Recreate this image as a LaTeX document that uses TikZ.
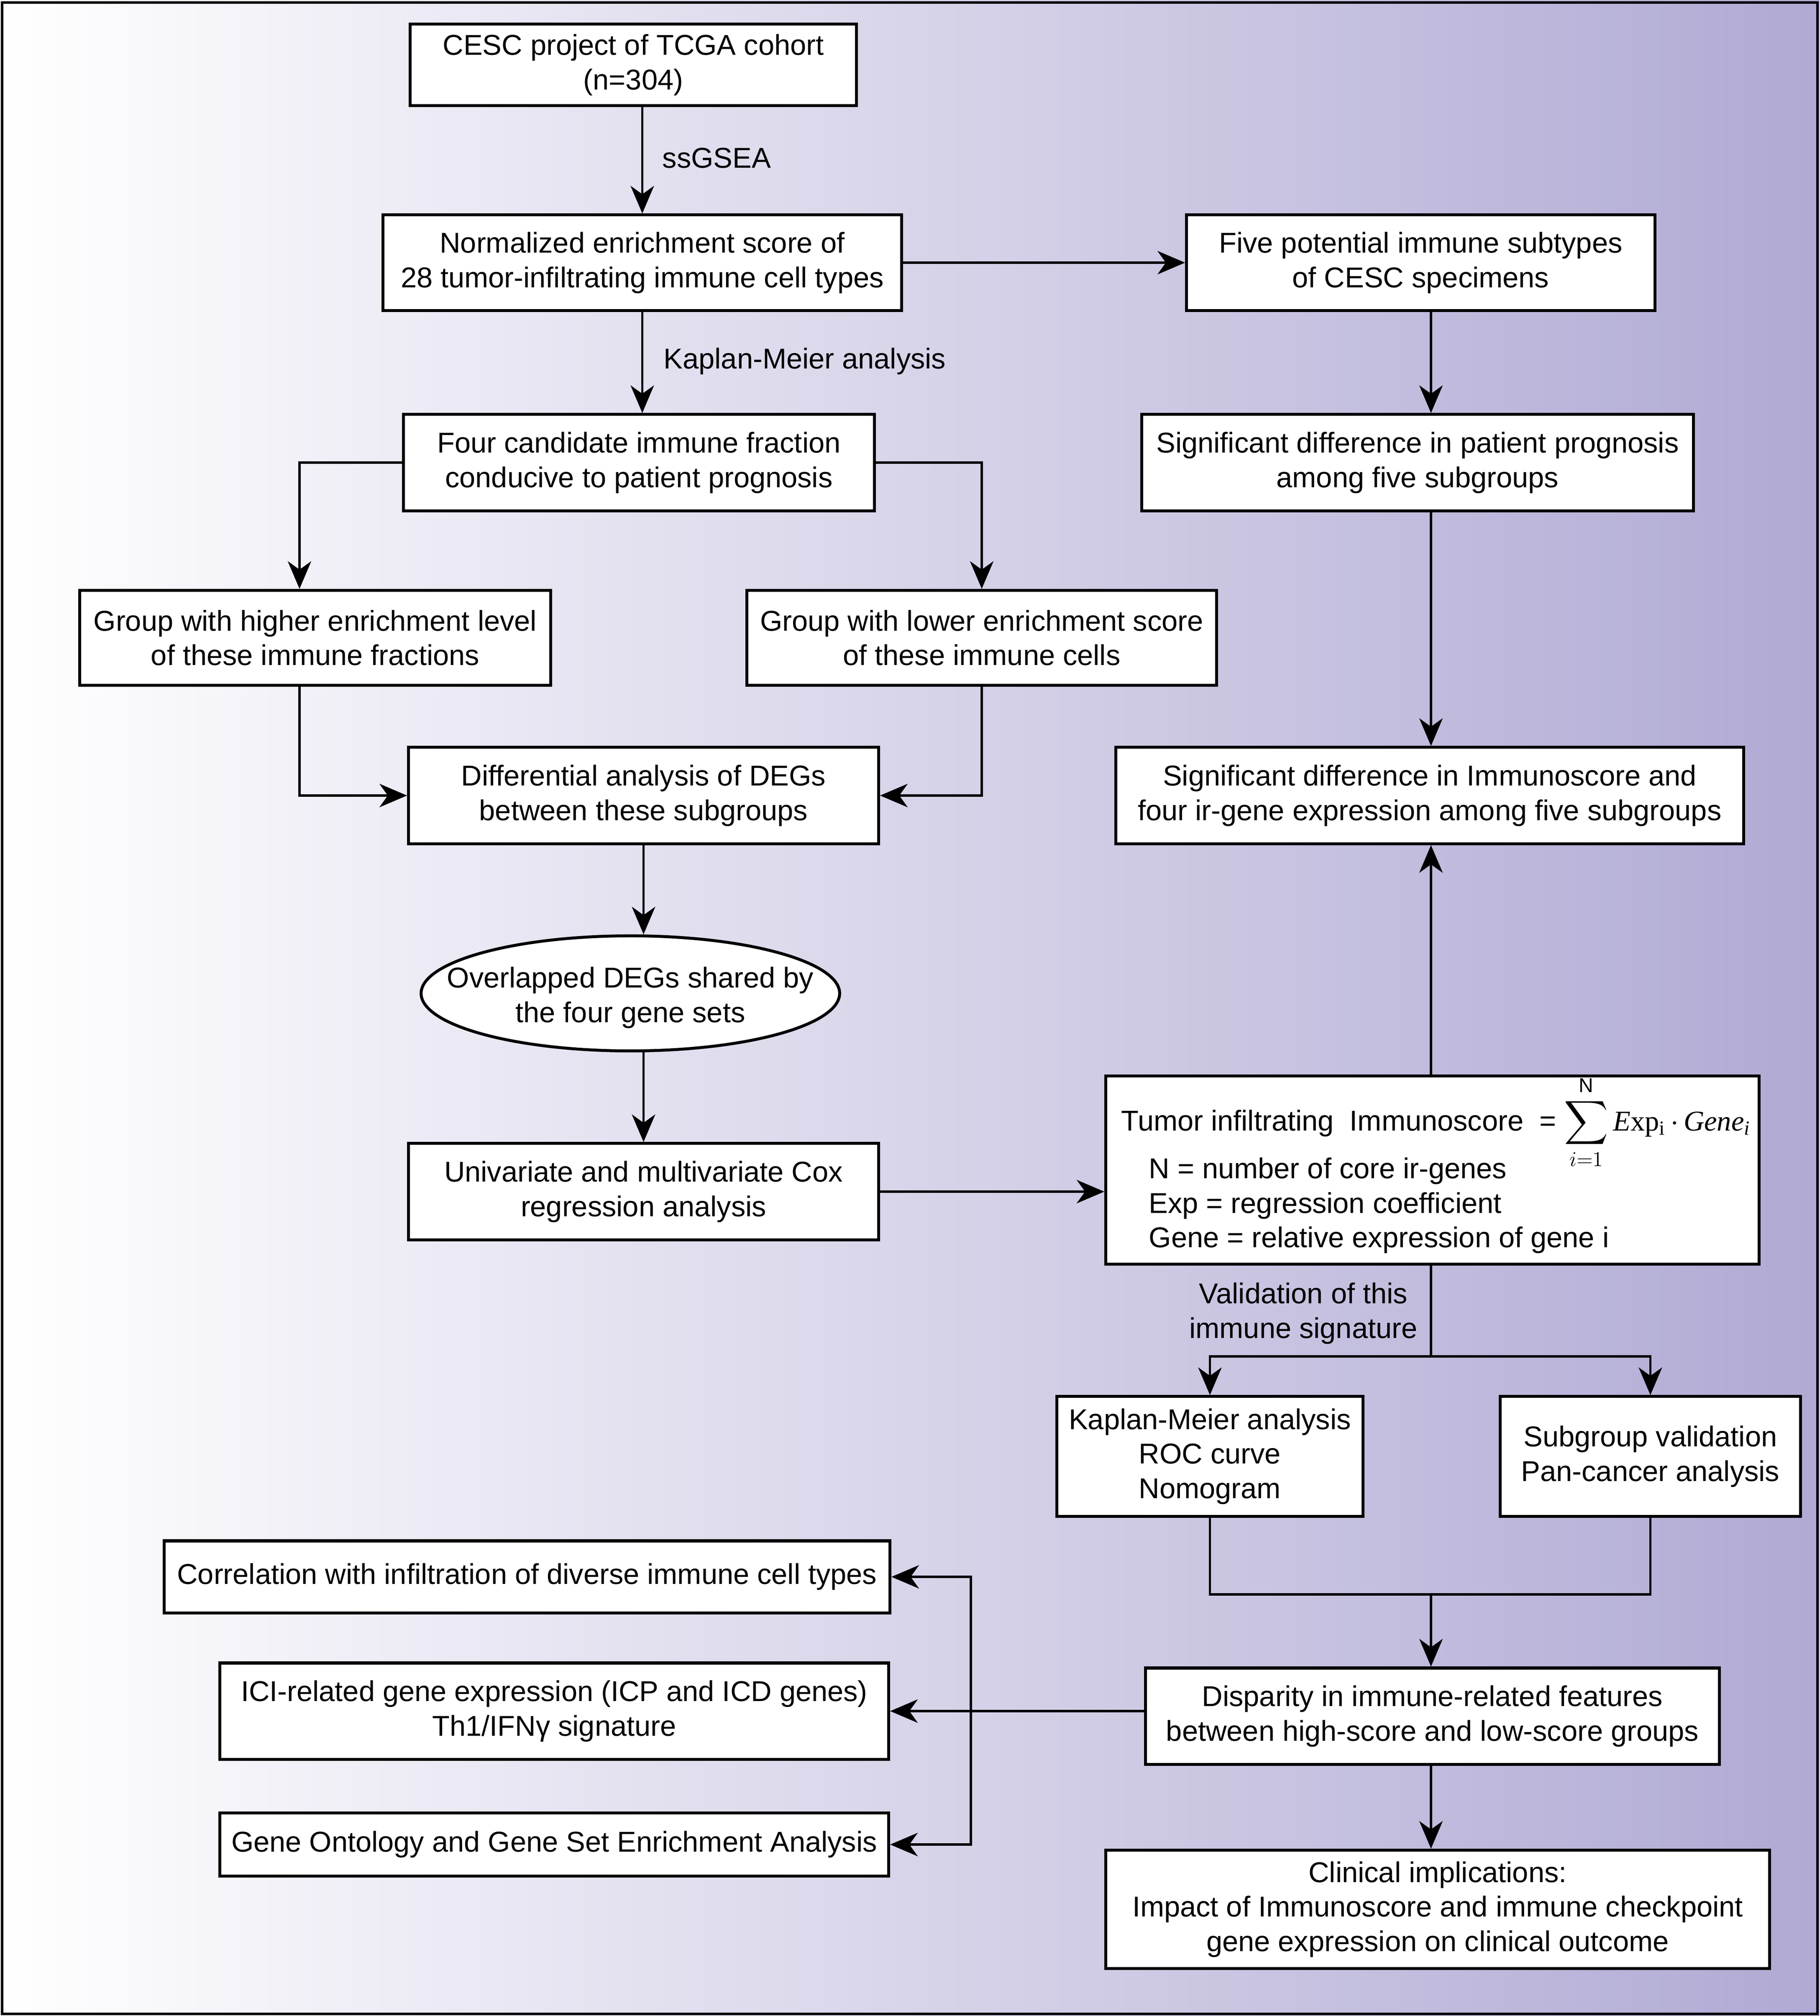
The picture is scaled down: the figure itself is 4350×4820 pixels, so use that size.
\documentclass[tikz,border=0pt]{standalone}
\usepackage{amsmath}
\usepackage{fontspec}
\setmainfont{Liberation Sans}
\newfontfamily\tms{Liberation Serif}
\usetikzlibrary{shapes.geometric,arrows.meta}
\definecolor{bgR}{RGB}{176,170,212}
\tikzset{
  box/.style={draw=black, line width=2pt, fill=white, align=center, inner sep=0pt,
    font=\fontsize{19.5}{23.5}\selectfont},
  lbl/.style={inner sep=0pt, align=center, font=\fontsize{19.5}{23.5}\selectfont},
  ftxt/.style={inner sep=0pt, anchor=base west, font=\fontsize{19.5}{23.5}\selectfont},
  conn/.style={line width=1.6pt, draw=black},
  arr/.style={conn, -{Stealth[length=0.66cm, width=0.56cm, inset=0.2cm]}},
}
\begin{document}
\begin{tikzpicture}[x=0.01cm, y=-0.01cm]
\useasboundingbox (0,0) rectangle (4350,4820);
\fill[left color=white, right color=bgR] (0,0) rectangle (4350,4820);
\draw[line width=1.7pt] (5,6) rectangle (4345,4815);

% boxes
\node[box, minimum width=10.66cm, minimum height=1.94cm] (b1) at (1514,155) {CESC project of TCGA cohort\\(n=304)};
\node[box, minimum width=12.39cm, minimum height=2.28cm] (b2) at (1535.5,628) {Normalized enrichment score of\\28 tumor-infiltrating immune cell types};
\node[box, minimum width=11.19cm, minimum height=2.28cm] (b3) at (3396.5,628) {Five potential immune subtypes\\of CESC specimens};
\node[box, minimum width=11.25cm, minimum height=2.30cm] (b4) at (1527.5,1106) {Four candidate immune fraction\\conducive to patient prognosis};
\node[box, minimum width=13.18cm, minimum height=2.30cm] (b5) at (3389,1106) {Significant difference in patient prognosis\\among five subgroups};
\node[box, minimum width=11.25cm, minimum height=2.27cm] (b6) at (753.5,1525) {Group with higher enrichment level\\of these immune fractions};
\node[box, minimum width=11.22cm, minimum height=2.27cm] (b7) at (2347,1525) {Group with lower enrichment score\\of these immune cells};
\node[box, minimum width=11.23cm, minimum height=2.30cm] (b8) at (1538.5,1902) {Differential analysis of DEGs\\between these subgroups};
\node[box, minimum width=15.00cm, minimum height=2.30cm] (b9) at (3418,1902) {Significant difference in Immunoscore and\\four ir-gene expression among five subgroups};
\node[box, ellipse, minimum width=10.0cm, minimum height=2.75cm,
  label={[lbl, yshift=-0.1cm]center:{Overlapped DEGs shared by\\the four gene sets}}] (ell) at (1507,2375) {};
\node[box, minimum width=11.23cm, minimum height=2.30cm] (b10) at (1538.5,2849) {Univariate and multivariate Cox\\regression analysis};
\node[box, minimum width=15.61cm, minimum height=4.49cm] (b11) at (3424.5,2797.5) {};
\node[ftxt] (f1) at (2680,2703) {Tumor infiltrating\ \ Immunoscore\ \ = $\displaystyle\sum_{i=1}^{\mathrm{N}}$\,{\tms\textit{E}xp\textsubscript{i}\,$\cdot$\,\textit{Gene\textsubscript{i}}}};
\node[ftxt] (f2) at (2746,2817) {N = number of core ir-genes};
\node[ftxt] (f3) at (2746,2900) {Exp = regression coefficient};
\node[ftxt] (f4) at (2746,2982) {Gene = relative expression of gene i};
\node[box, minimum width=7.31cm, minimum height=2.86cm] (b12) at (2892.5,3482) {Kaplan-Meier analysis\\ROC curve\\Nomogram};
\node[box, minimum width=7.17cm, minimum height=2.86cm] (b13) at (3945.5,3482) {Subgroup validation\\Pan-cancer analysis};
\node[box, minimum width=13.71cm, minimum height=2.30cm] (b14) at (3424.5,4103) {Disparity in immune-related features\\between high-score and low-score groups};
\node[box, minimum width=15.86cm, minimum height=2.83cm] (b15) at (3437,4565) {Clinical implications:\\Impact of Immunoscore and immune checkpoint\\gene expression on clinical outcome};
\node[box, minimum width=17.34cm, minimum height=1.72cm] (b16) at (1260,3770) {Correlation with infiltration of diverse immune cell types};
\node[box, minimum width=15.98cm, minimum height=2.30cm] (b17) at (1325,4091) {ICI-related gene expression (ICP and ICD genes)\\Th1/IFNγ signature};
\node[box, minimum width=15.98cm, minimum height=1.51cm] (b18) at (1325,4410) {Gene Ontology and Gene Set Enrichment Analysis};

% labels
\node[lbl, anchor=west] (l1) at (1583,378) {ssGSEA};
\node[lbl, anchor=west] (l2) at (1586,864) {Kaplan-Meier analysis};
\node[lbl] (l3) at (3116,3140) {Validation of this\\immune signature};

% helper coordinates
\coordinate (sp) at (3421,0);
\coordinate (x6) at (716,0);
\coordinate (vx) at (2321,0);
\coordinate (br1) at (3421,3243);
\coordinate (br2) at (3421,3812);

% connectors
\draw[arr] (b1.south -| b2.north) -- (b2.north);
\draw[arr] (b2.east) -- (b3.west);
\draw[arr] (b2.south) -- (b2.south |- b4.north);
\draw[arr] (b4.west) -| (x6 |- b6.north);
\draw[arr] (b4.east) -| (b7.north);
\draw[arr] (x6 |- b6.south) |- (b8.west);
\draw[arr] (b7.south) |- (b8.east);
\draw[arr] (b8.south) -- (b8.south |- ell.north);
\draw[arr] (b10.north |- ell.south) -- (b10.north);
\draw[arr] (b10.east) -- (b10.east -| b11.west);
\draw[arr] (sp |- b3.south) -- (sp |- b5.north);
\draw[arr] (sp |- b5.south) -- (sp |- b9.north);
\draw[arr] (sp |- b11.north) -- (sp |- b9.south);
\draw[conn] (sp |- b11.south) -- (br1);
\draw[arr] (br1) -| (b12.north);
\draw[arr] (br1) -| (b13.north);
\draw[conn] (b12.south) |- (br2);
\draw[conn] (b13.south) |- (br2);
\draw[arr] (br2) -- (sp |- b14.north);
\draw[arr] (sp |- b14.south) -- (sp |- b15.north);
\draw[arr] (b14.west |- b17.east) -- (b17.east);
\draw[arr] (vx |- b17.east) |- (b16.east);
\draw[arr] (vx |- b17.east) |- (b18.east);
\end{tikzpicture}
\end{document}
